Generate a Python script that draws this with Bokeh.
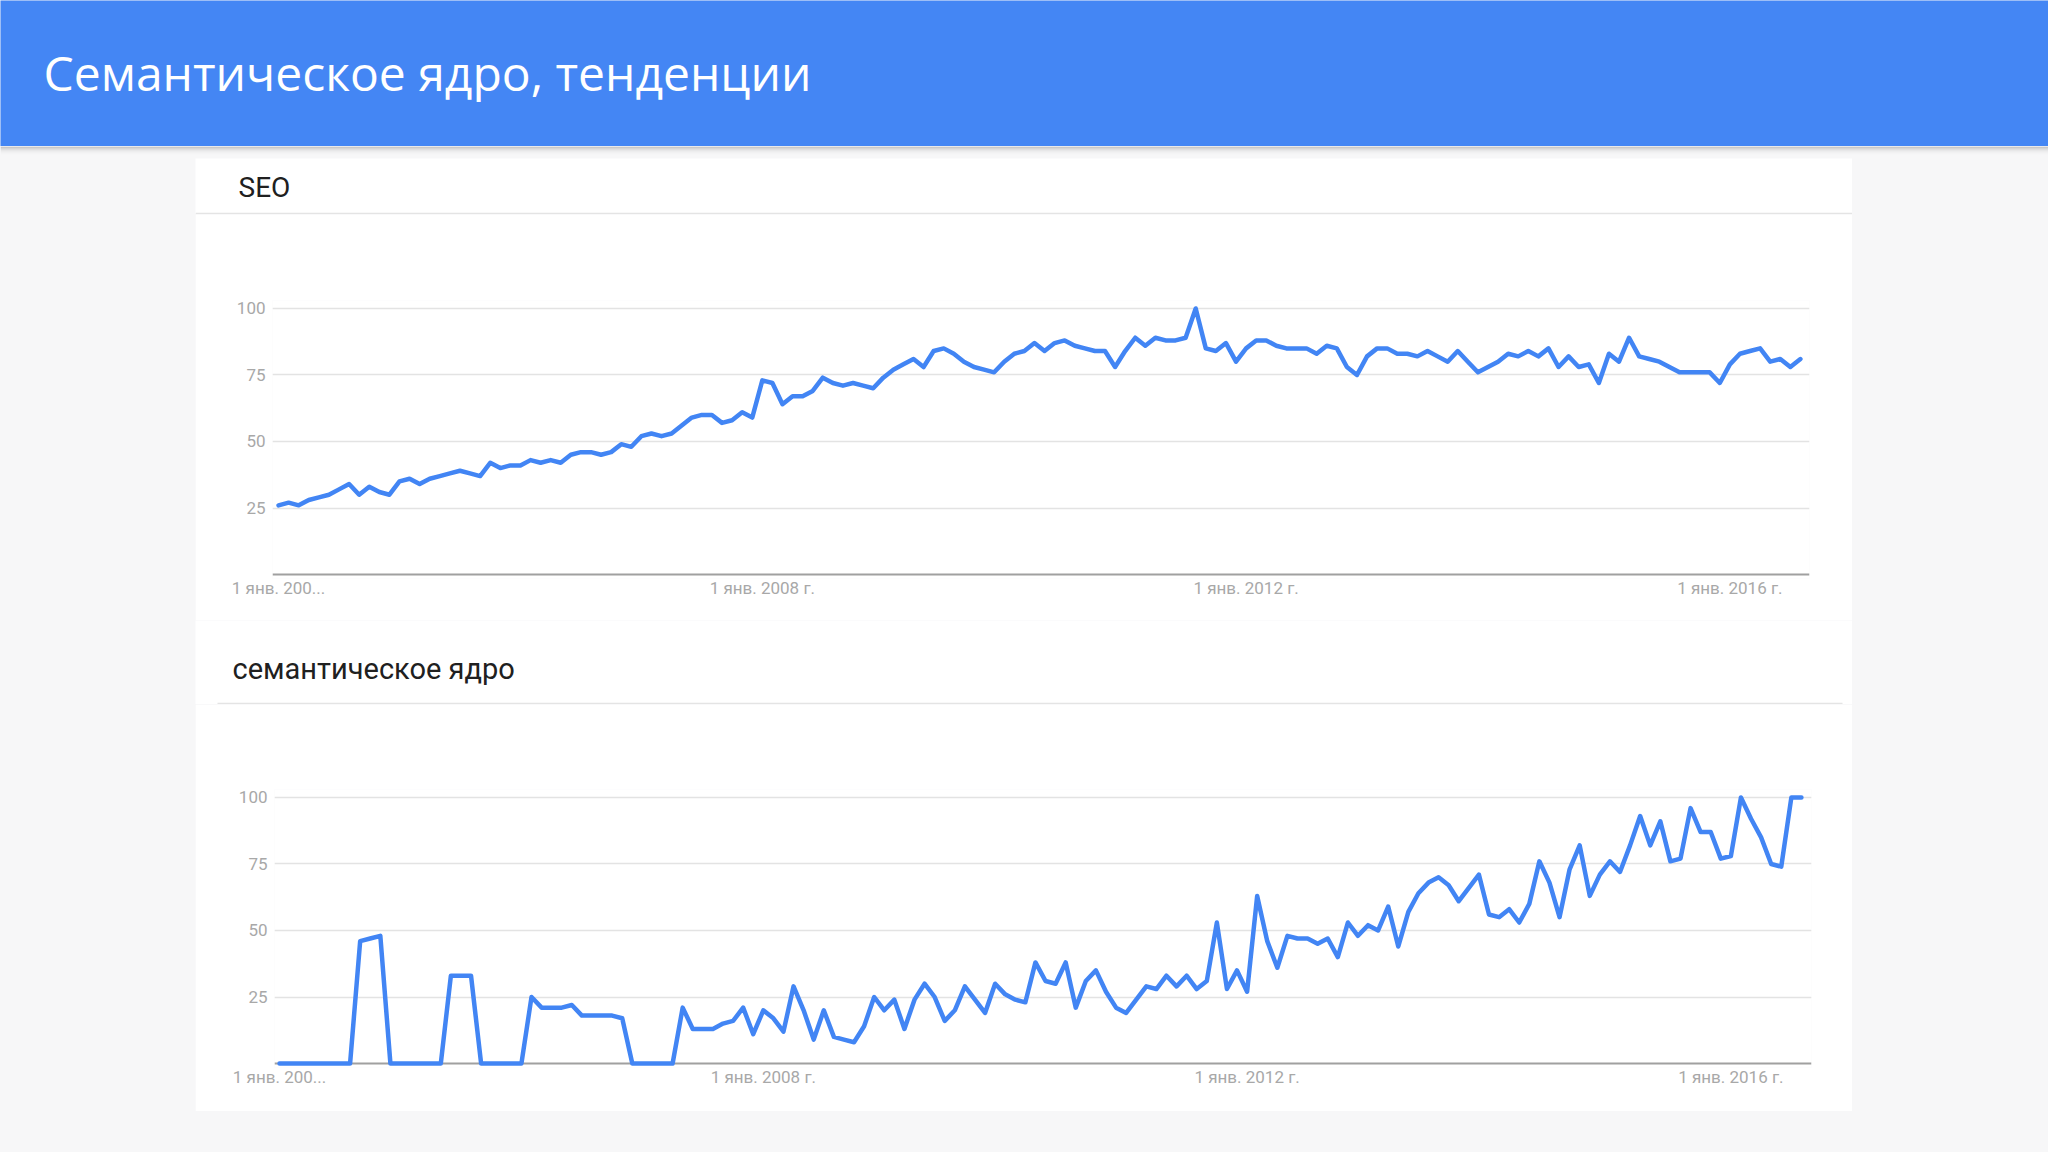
from bokeh.plotting import figure
from bokeh.layouts import column, row
from bokeh.models import Label, FixedTicker, Grid, Range1d, GlobalInlineStyleSheet
from bokeh.embed import file_html
from bokeh.resources import INLINE

# ---------------- data (Google Trends, monthly, Jan 2004 .. Aug 2016) ----------------
month_index = list(range(152))
tick_months = [0, 48, 96, 144]
tick_labels = ["1 янв. 200...", "1 янв. 2008 г.", "1 янв. 2012 г.", "1 янв. 2016 г."]
y_ticks = [25, 50, 75, 100]

seo = [26, 27, 26, 28, 29, 30, 32, 34, 30, 33, 31, 30,
       35, 36, 34, 36, 37, 38, 39, 38, 37, 42, 40, 41,
       41, 43, 42, 43, 42, 45, 46, 46, 45, 46, 49, 48,
       52, 53, 52, 53, 56, 59, 60, 60, 57, 58, 61, 59,
       73, 72, 64, 67, 67, 69, 74, 72, 71, 72, 71, 70,
       74, 77, 79, 81, 78, 84, 85, 83, 80, 78, 77, 76,
       80, 83, 84, 87, 84, 87, 88, 86, 85, 84, 84, 78,
       84, 89, 86, 89, 88, 88, 89, 100, 85, 84, 87, 80,
       85, 88, 88, 86, 85, 85, 85, 83, 86, 85, 78, 75,
       82, 85, 85, 83, 83, 82, 84, 82, 80, 84, 80, 76,
       78, 80, 83, 82, 84, 82, 85, 78, 82, 78, 79, 72,
       83, 80, 89, 82, 81, 80, 78, 76, 76, 76, 76, 72,
       79, 83, 84, 85, 80, 81, 78, 81]

sem_core = [0, 0, 0, 0, 0, 0, 0, 0, 46, 47, 48, 0,
            0, 0, 0, 0, 0, 33, 33, 33, 0, 0, 0, 0,
            0, 25, 21, 21, 21, 22, 18, 18, 18, 18, 17, 0,
            0, 0, 0, 0, 21, 13, 13, 13, 15, 16, 21, 11,
            20, 17, 12, 29, 20, 9, 20, 10, 9, 8, 14, 25,
            20, 24, 13, 24, 30, 25, 16, 20, 29, 24, 19, 30,
            26, 24, 23, 38, 31, 30, 38, 21, 31, 35, 27, 21,
            19, 24, 29, 28, 33, 29, 33, 28, 31, 53, 28, 35,
            27, 63, 46, 36, 48, 47, 47, 45, 47, 40, 53, 48,
            52, 50, 59, 44, 57, 64, 68, 70, 67, 61, 66, 71,
            56, 55, 58, 53, 60, 76, 68, 55, 73, 82, 63, 71,
            76, 72, 82, 93, 82, 91, 76, 77, 96, 87, 87, 77,
            78, 100, 92, 85, 75, 74, 100, 100]

title_text = "Семантическое ядро, тенденции"
chart_titles = ["SEO", "семантическое ядро"]

# ---------------- styles ----------------
HEADER_BLUE = "#4486f4"
PAGE_BG = "#f7f7f8"
LINE_BLUE = "#4285f4"
GRID = "#e3e3e3"
BASE = "#a0a0a0"
LABEL_GRAY = "#a8a8a8"


def blank(w, h, color):
    p = figure(width=w, height=h, x_range=Range1d(0, w), y_range=Range1d(h, 0),
               title=None, toolbar_location=None, output_backend="svg",
               x_axis_type=None, y_axis_type=None, min_border=0,
               outline_line_color=None, background_fill_color=color,
               border_fill_color=color, frame_align=False)
    return p


def chart(values, w, h, left, right, top, bottom, xr):
    p = figure(width=w, height=h, x_range=Range1d(*xr), y_range=Range1d(-1.5, 103),
               title=None, toolbar_location=None, output_backend="svg",
               min_border_left=left, min_border_right=right,
               min_border_top=top, min_border_bottom=bottom,
               outline_line_color=None, background_fill_color="white",
               border_fill_color="white", frame_align=False)
    p.line(month_index, values, line_color=LINE_BLUE, line_width=4.5,
           line_join="round", line_cap="round")
    p.xgrid.visible = False
    p.ygrid.ticker = FixedTicker(ticks=y_ticks)
    p.ygrid.grid_line_color = GRID
    p.ygrid.grid_line_width = 1.5
    p.add_layout(Grid(dimension=1, ticker=FixedTicker(ticks=[0]),
                      grid_line_color=BASE, grid_line_width=2))
    p.yaxis.ticker = FixedTicker(ticks=y_ticks)
    p.xaxis.ticker = FixedTicker(ticks=tick_months)
    p.xaxis.major_label_overrides = {m: t for m, t in zip(tick_months, tick_labels)}
    for ax in (p.xaxis[0], p.yaxis[0]):
        ax.axis_line_color = None
        ax.major_tick_line_color = None
        ax.minor_tick_line_color = None
        ax.major_tick_out = 0
        ax.major_tick_in = 0
        ax.major_label_text_font = "Roboto"
        ax.major_label_text_font_size = "17px"
        ax.major_label_text_color = LABEL_GRAY
    p.xaxis.major_label_standoff = -1
    p.yaxis.major_label_standoff = 7
    return p


# header
header = blank(2048, 146, HEADER_BLUE)
header.add_layout(Label(x=43, y=72, text=title_text, text_color="white",
                        text_font="Open Sans", text_font_size="48px",
                        text_baseline="alphabetic"))

# shadow gap under header
gap = blank(2048, 12, PAGE_BG)
shade_rows = [0, 1, 2, 3, 4, 5, 6, 7]
shade_alpha = [0.22, 0.16, 0.11, 0.08, 0.05, 0.03, 0.02, 0.01]
gap.quad(left=0, right=2048, top=shade_rows, bottom=[r + 1 for r in shade_rows],
         fill_color="black", fill_alpha=shade_alpha, line_color=None)

# card contents
t1 = blank(1657, 56, "white")
t1.add_layout(Label(x=43, y=29, text=chart_titles[0], text_color="#202020",
                    text_font="Roboto", text_font_size="28px",
                    text_baseline="alphabetic"))
t1.segment(x0=[0], y0=[55], x1=[1657], y1=[55], line_color="#e4e4e4", line_width=1.5)

c1 = chart(seo, 1657, 406, 77, 43, 86, 42, (-0.6, 151.9))

t2 = blank(1657, 84, "white")
t2.add_layout(Label(x=37, y=48, text=chart_titles[1], text_color="#202020",
                    text_font="Roboto", text_font_size="29px",
                    text_baseline="alphabetic"))
t2.segment(x0=[22], y0=[83], x1=[1647], y1=[83], line_color="#e4e4e4", line_width=1.5)

c2 = chart(sem_core, 1657, 407, 79, 41, 85, 44, (-0.5, 152.0))

card = column(t1, c1, t2, c2, spacing=0)
mid = row(blank(195, 953, PAGE_BG), card, blank(196, 953, PAGE_BG), spacing=0)
page = column(header, gap, mid, blank(2048, 41, PAGE_BG), spacing=0)
page.stylesheets = [GlobalInlineStyleSheet(
    css="html,body{margin:0 !important;padding:0;overflow:hidden;background:#f7f7f8;}")]

open("out.html", "w").write(file_html(page, INLINE))
